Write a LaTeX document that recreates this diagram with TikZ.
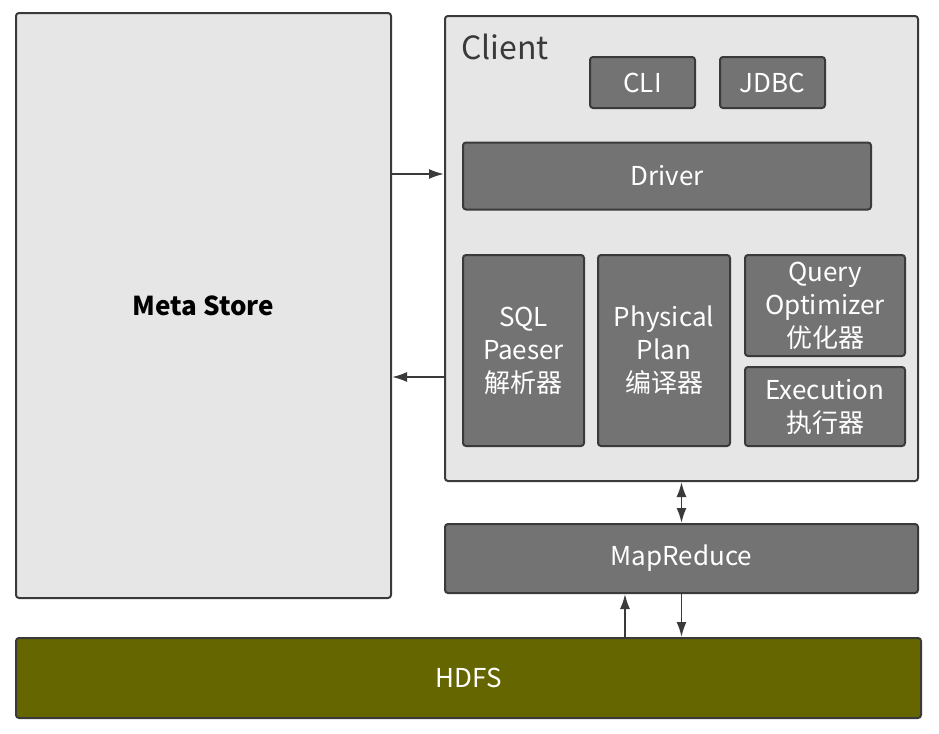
\documentclass[tikz,border=0pt]{standalone}
\usepackage{fontspec}
\setmainfont{Noto Sans CJK SC}
\usetikzlibrary{arrows.meta}

\definecolor{boxfill}{HTML}{E6E6E6}
\definecolor{unitfill}{HTML}{737373}
\definecolor{edge}{HTML}{3A3A3A}
\definecolor{hdfsfill}{HTML}{666600}

\tikzset{
	layer/.style = {draw = edge, line width = 1pt, rounded corners = 1.5pt, fill = boxfill, inner sep = 0pt},
	unit/.style = {layer, fill = unitfill, text = white, align = center, font = \fontsize{13}{16.5}\selectfont},
	boxsize/.style 2 args = {minimum width = #1*0.5pt, minimum height = #2*0.5pt},
	link/.style = {draw = edge, line width = 0.9pt, -{Latex[length = 7.5pt, width = 5pt]}}
}

\begin{document}
\begin{tikzpicture}[x = 0.5pt, y = -0.5pt]%Hive
	\useasboundingbox (0,0) rectangle (939,734);
	\node[layer, boxsize = {375}{585}, font = \bfseries\fontsize{13}{16}\selectfont](META) at (203.5,305.5){Meta Store};
	\node[layer, boxsize = {473}{465}](CLIENT) at (681.5,248.5){};
	\node[anchor = base west, inner sep = 0pt, text = edge, font = \fontsize{16}{19}\selectfont] at (461,59){Client};
	\node[unit, boxsize = {105}{51}](CLI) at (642.5,82.5){CLI};
	\node[unit, boxsize = {105}{51}](JDBC) at (772.5,82.5){JDBC};
	\node[unit, boxsize = {408}{67}](DRV) at (667,176){Driver};
	\node[unit, boxsize = {121}{191}](SQL) at (523.5,350.5){SQL\\Paeser\\解析器};
	\node[unit, boxsize = {132}{191}](PHY) at (664,350.5){Physical\\Plan\\编译器};
	\node[unit, boxsize = {160}{101}](OPT) at (825,305.5){Query\\Optimizer\\优化器};
	\node[unit, boxsize = {160}{79}](EXE) at (825,406.5){Execution\\执行器};
	\node[unit, boxsize = {473}{69}](MR) at (681.5,558.5){MapReduce};
	\node[unit, fill = hdfsfill, boxsize = {905}{80}](HDFS) at (468.5,678){HDFS};
	% connections
	\draw[link] (META.east |- 0,174) -- (CLIENT.west |- 0,174);
	\draw[link] (CLIENT.west |- 0,377) -- (META.east |- 0,377);
	\draw[link, {Latex[length = 7.5pt, width = 5pt]}-{Latex[length = 7.5pt, width = 5pt]}] (CLIENT.south) -- (MR.north);
	\draw[link] (MR.south) -- (HDFS.north -| MR.south);
	\draw[link] (HDFS.north -| 625,0) -- (MR.south -| 625,0);
\end{tikzpicture}
\end{document}
